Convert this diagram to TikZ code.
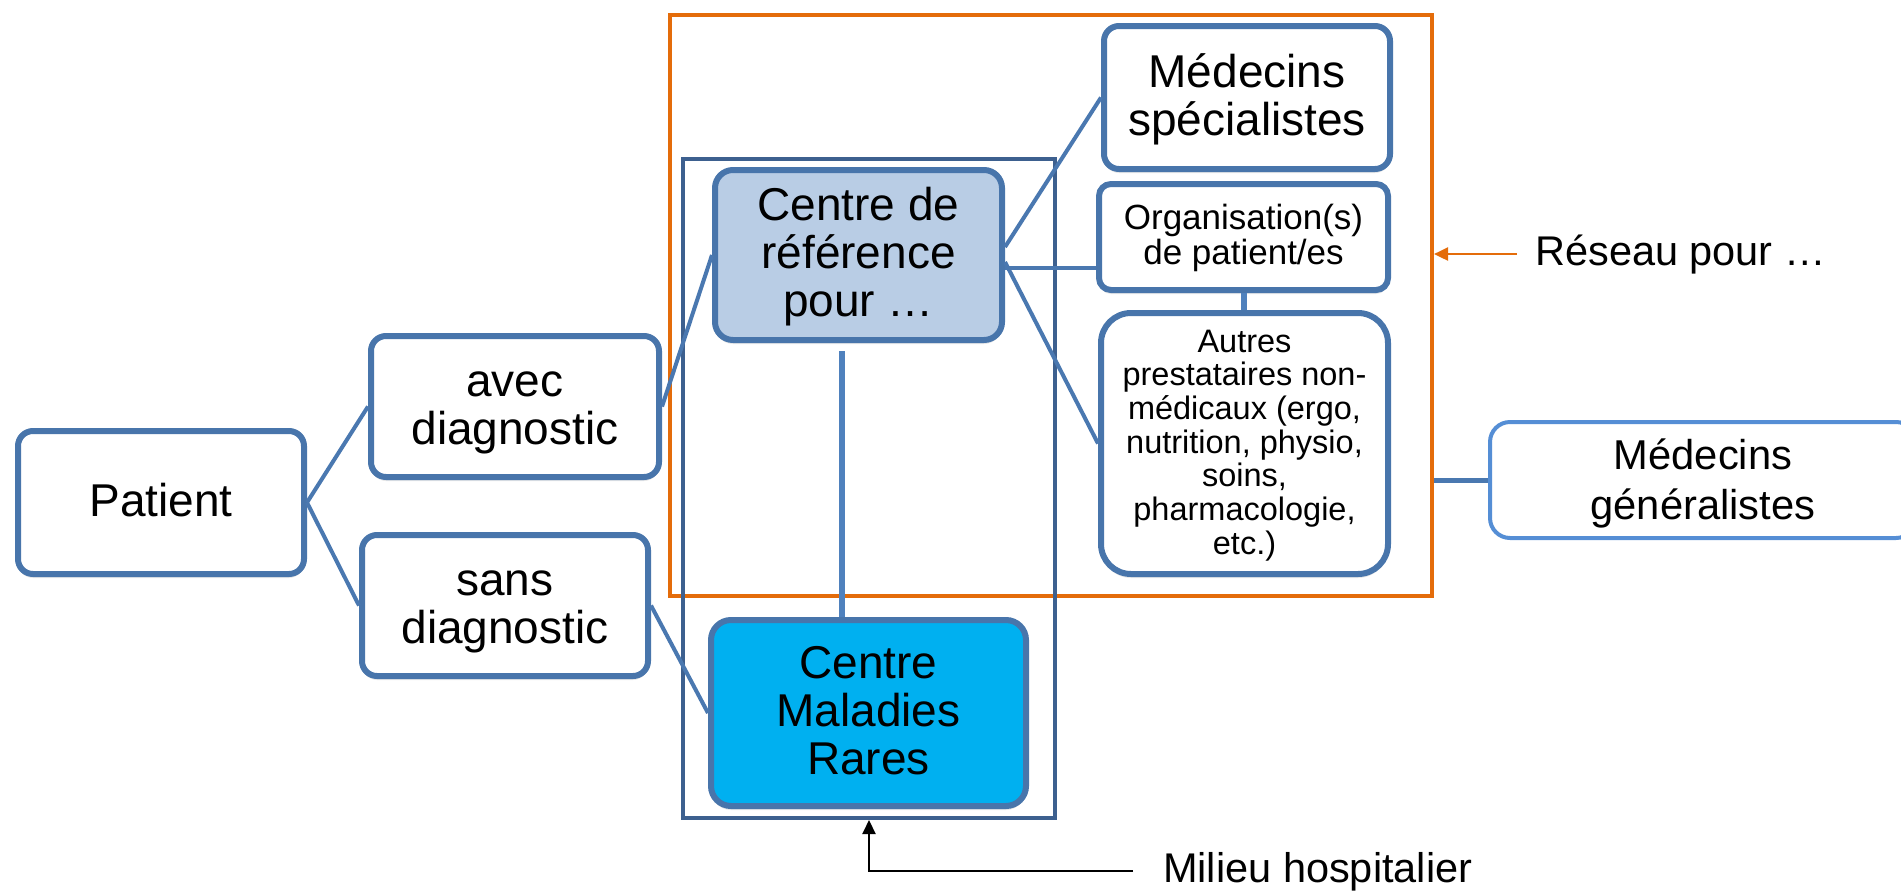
\documentclass[tikz,border=0pt]{standalone}
\usepackage{fontspec}
\setmainfont{Liberation Sans}
\usetikzlibrary{shadows,arrows.meta,calc}
\definecolor{bbord}{RGB}{72,117,171}
\definecolor{dkblue}{RGB}{61,96,143}
\definecolor{orng}{RGB}{228,108,10}
\definecolor{crefc}{RGB}{185,205,229}
\definecolor{cmrc}{RGB}{0,176,240}
\definecolor{mgenc}{RGB}{85,142,213}
\definecolor{linec}{RGB}{74,120,176}
\definecolor{linel}{RGB}{79,129,189}
\newcommand\kst{\rule[-.21\baselineskip]{0pt}{\baselineskip}}
\begin{document}
\begin{tikzpicture}[x=1pt,y=-1pt,
  box/.style={draw=bbord, line width=6pt, rounded corners=15pt, fill=white,
    align=center, inner sep=0pt,
    drop shadow={opacity=0.18, shadow xshift=0pt, shadow yshift=-4pt},
    font=\fontsize{46}{48}\selectfont},
  conn/.style={draw=linec, line width=4pt},
  frame/.style={line width=4pt, inner sep=0pt},
  lbl/.style={anchor=base west, inner sep=0pt, font=\fontsize{41.5}{50}\selectfont},
  ]
\useasboundingbox (0,0) rectangle (1901,895);
% frames
\node[frame, draw=orng, minimum width=762pt, minimum height=581pt] (reseau) at (1051,305.5) {};
\node[frame, draw=dkblue, minimum width=372pt, minimum height=659pt] (hosp) at (869,488.5) {};
% boxes
\node[box, minimum width=286pt, minimum height=143pt] (patient) at (161,502.5) {\kst Patient\kst};
\node[box, minimum width=288pt, minimum height=141pt] (avec) at (515,406.5) {\kst avec\\diagnostic\kst};
\node[box, minimum width=286pt, minimum height=141pt] (sans) at (505,605.5) {\kst sans\\diagnostic\kst};
\node[box, fill=crefc, rounded corners=18pt, minimum width=287pt, minimum height=170pt] (cref) at (858.5,255) {\kst Centre de\\référence\\pour …\kst};
\node[box, fill=cmrc, rounded corners=20pt, minimum width=315pt, minimum height=186pt] (cmr) at (868.5,713) {\kst Centre\\Maladies\\Rares\kst};
\node[box, minimum width=286pt, minimum height=143pt] (mspec) at (1247,97.5) {\kst Médecins\\spécialistes\kst};
\node[box, rounded corners=12pt, minimum width=289pt, minimum height=106pt, font=\fontsize{35}{35}\selectfont] (org) at (1243.5,237) {\kst Organisation(s)\\de patient/es\kst};
\node[box, rounded corners=30pt, minimum width=287pt, minimum height=261pt, font=\fontsize{32.5}{33.7}\selectfont] (autres) at (1244.5,443.5) {\kst Autres\\prestataires non-\\médicaux (ergo,\\nutrition, physio,\\soins,\\pharmacologie,\\etc.)\kst};
\node[draw=mgenc, line width=4pt, rounded corners=20pt, fill=white, align=center, inner sep=0pt,
  minimum width=426pt, minimum height=116pt, font=\fontsize{41.7}{50}\selectfont] (mgen) at (1703,480) {\kst Médecins\\généralistes\kst};
% connectors
\draw[conn] (patient.east) -- (avec.west);
\draw[conn] (patient.east) -- (sans.west);
\draw[conn] (avec.east) -- (cref.west);
\draw[conn] (sans.east) -- (cmr.west);
\draw[conn] (cref.east |- 0,247) -- (mspec.west);
\draw[conn] (cref.east |- 0,268) -- (org.west |- 0,268);
\draw[conn] (cref.east |- 0,262) -- (autres.west);
\draw[conn, draw=linel, line width=6pt, shorten <=8pt] (cref.south -| 842,0) -- (cmr.north -| 842,0);
\draw[conn, draw=linel, line width=6pt] (org.south) -- (org.south |- autres.north);
\draw[conn, line width=5pt] (reseau.east |- mgen.west) -- (mgen.west);
% labels
\node[lbl] (reslabel) at (1535,265) {Réseau pour …};
\node[lbl] (millabel) at (1163,882) {Milieu hospitalier};
\coordinate (rs) at ([xshift=-18pt]reslabel.west);
\coordinate (ms) at ([xshift=-30pt]millabel.west);
\draw[orng, line width=2.2pt, -{Triangle[length=14pt,width=13pt]}] (rs) -- (reseau.east |- rs);
\draw[black, line width=2.2pt, -{Triangle[length=14pt,width=13pt]}] (ms) -- (hosp.south |- ms) -- (hosp.south);
\end{tikzpicture}
\end{document}
